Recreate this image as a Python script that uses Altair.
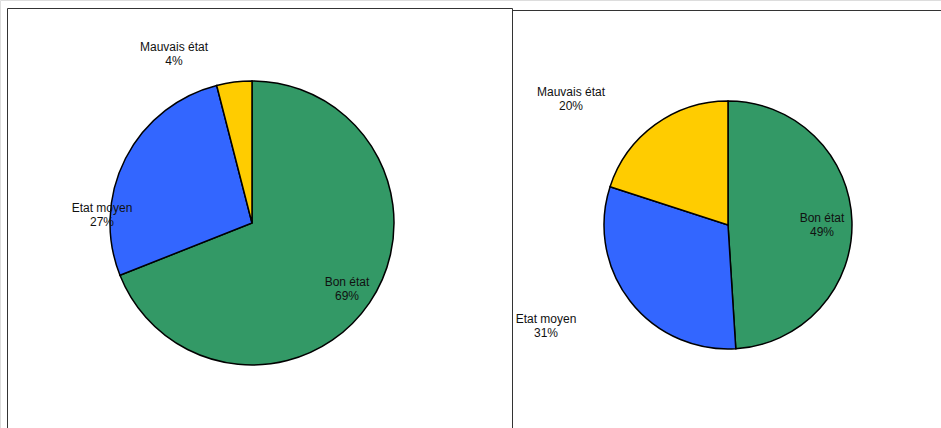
import altair as alt
import pandas as pd

categories = ["Bon état", "Etat moyen", "Mauvais état"]
colors = ["#339966", "#3366FF", "#FFCC00"]
left_values = [69, 27, 4]
right_values = [49, 31, 20]

def make_df(vals):
    return pd.DataFrame({
        "category": categories,
        "value": vals,
        "order": list(range(len(categories))),
        "label": [f"{c}\n{v}%" for c, v in zip(categories, vals)],
    })

left_df = make_df(left_values)
right_df = make_df(right_values)

color_scale = alt.Scale(domain=categories, range=colors)

def pie(df, cx, cy, r):
    return alt.Chart(df).mark_arc(radius=r, stroke="black", strokeWidth=1.5).encode(
        theta=alt.Theta("value:Q", stack=True, scale=alt.Scale(domain=[0, 100])),
        color=alt.Color("category:N", scale=color_scale, legend=None),
        order=alt.Order("order:Q"),
        x=alt.value(cx),
        y=alt.value(cy),
    )

def label(df, cat, x, y):
    return alt.Chart(df).transform_filter(
        alt.datum.category == cat
    ).mark_text(
        font="Liberation Sans", fontSize=12, lineHeight=14, lineBreak="\n",
        align="center", baseline="middle", color="#111111"
    ).encode(text="label:N", x=alt.value(x), y=alt.value(y))

dummy = pd.DataFrame({"a": [0]})
border_color = "#333333"

def hrule(x1, x2, y):
    return alt.Chart(dummy).mark_rule(color=border_color, strokeWidth=1).encode(
        x=alt.value(x1), x2=alt.value(x2), y=alt.value(y))

def vrule(x, y1, y2):
    return alt.Chart(dummy).mark_rule(color=border_color, strokeWidth=1).encode(
        x=alt.value(x), y=alt.value(y1), y2=alt.value(y2))

layers = [
    hrule(7.5, 512.5, 8.5),
    vrule(7.5, 8.5, 440),
    vrule(512.5, 8.5, 440),
    hrule(512.5, 945, 10.5),
    pie(left_df, 252, 223, 142),
    pie(right_df, 728, 225, 124),
    label(left_df, "Mauvais état", 174, 46.5),
    label(left_df, "Etat moyen", 102, 208),
    label(left_df, "Bon état", 347, 282),
    label(right_df, "Mauvais état", 571, 92),
    label(right_df, "Bon état", 822, 218),
    label(right_df, "Etat moyen", 546, 318.5),
]

chart = alt.layer(*layers).properties(
    width=941, height=428,
    autosize=alt.AutoSizeParams(type="none"),
    padding=0,
).configure_view(strokeWidth=0).configure(background="white")

chart.save("out.html", embed_options={"renderer": "svg", "actions": False})
